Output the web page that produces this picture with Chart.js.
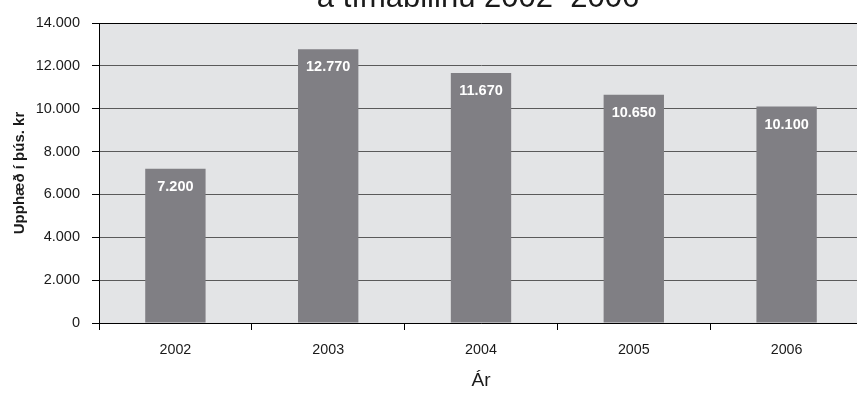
<!DOCTYPE html>
<html>
<head>
<meta charset="utf-8">
<script src="https://cdn.jsdelivr.net/npm/chart.js@4/dist/chart.umd.min.js"></script>
<style>
  html, body { margin: 0; padding: 0; background: #ffffff; overflow: hidden; }
  #wrap { position: relative; width: 863px; height: 394px; }
</style>
</head>
<body>
<div id="wrap"><canvas id="chart"></canvas></div>
<script>
// Yearly amounts (thousand kr)
const years = ['2002', '2003', '2004', '2005', '2006'];
const amounts = [7200, 12770, 11670, 10650, 10100];
const yTicks = [0, 2000, 4000, 6000, 8000, 10000, 12000, 14000];
const titleText = 'á tímabilinu 2002–2006';
const yTitle = 'Upphæð í þús. kr';
const xTitle = 'Ár';

const FONT = '"Liberation Sans", Arial, Helvetica, sans-serif';
const fmt = v => String(Math.round(v)).replace(/\B(?=(\d{3})+(?!\d))/g, '.');

// Light grey plot area behind the bars
const plotBackground = {
  id: 'plotBackground',
  beforeDraw(chart) {
    const { ctx, chartArea: a } = chart;
    ctx.save();
    ctx.fillStyle = '#e3e4e6';
    ctx.fillRect(a.left, a.top, a.right - a.left, a.bottom - a.top);
    ctx.restore();
  }
};

// White value labels just inside the top of each bar
const barValues = {
  id: 'barValues',
  afterDatasetsDraw(chart) {
    const { ctx } = chart;
    const meta = chart.getDatasetMeta(0);
    ctx.save();
    ctx.fillStyle = '#ffffff';
    ctx.font = 'bold 14.5px ' + FONT;
    ctx.textAlign = 'center';
    ctx.textBaseline = 'middle';
    meta.data.forEach((bar, i) => {
      ctx.fillText(fmt(amounts[i]), bar.x, bar.y + 18);
    });
    ctx.restore();
  }
};

// Heading line along the top edge
const heading = {
  id: 'heading',
  afterDraw(chart) {
    const { ctx } = chart;
    ctx.save();
    ctx.fillStyle = '#1a1a1a';
    ctx.font = '31px ' + FONT;
    ctx.textAlign = 'center';
    ctx.textBaseline = 'alphabetic';
    ctx.fillText(titleText, 478, 7);
    ctx.restore();
  }
};

new Chart(document.getElementById('chart'), {
  type: 'bar',
  data: {
    labels: years,
    datasets: [{
      data: amounts,
      backgroundColor: '#807f84',
      borderWidth: 0,
      categoryPercentage: 1,
      barPercentage: 0.395
    }]
  },
  options: {
    responsive: true,
    maintainAspectRatio: false,
    animation: false,
    layout: { padding: { top: 23, left: 0, right: 0, bottom: 0 } },
    plugins: {
      legend: { display: false },
      tooltip: { enabled: false },
      title: { display: false }
    },
    scales: {
      x: {
        grid: {
          offset: true,
          drawOnChartArea: false,
          drawTicks: true,
          tickLength: 7,
          tickColor: '#000000',
          tickWidth: 1
        },
        border: { display: true, color: '#000000', width: 1 },
        ticks: {
          color: '#1a1a1a',
          font: { family: FONT, size: 14.3 },
          padding: 11,
          maxRotation: 0
        },
        title: {
          display: true,
          text: xTitle,
          color: '#1a1a1a',
          font: { family: FONT, size: 19 },
          padding: { top: 0, bottom: 2 }
        },
        afterFit(scale) { scale.height = 71; }
      },
      y: {
        min: 0,
        max: 14000,
        afterBuildTicks(scale) { scale.ticks = yTicks.map(v => ({ value: v })); },
        grid: {
          color: ctx => (ctx.tick && ctx.tick.value === 14000) ? '#000000' : '#5a5a5a',
          lineWidth: 1,
          drawTicks: true,
          tickLength: 7,
          tickColor: '#000000'
        },
        border: { display: true, color: '#000000', width: 1 },
        ticks: {
          color: '#1a1a1a',
          font: { family: FONT, size: 14.5 },
          padding: 12,
          callback: v => fmt(v)
        },
        title: {
          display: true,
          text: yTitle,
          color: '#1a1a1a',
          font: { family: FONT, size: 15, weight: 'bold' },
          padding: { top: 11, bottom: 0 }
        },
        afterFit(scale) { scale.width = 99; }
      }
    }
  },
  plugins: [plotBackground, barValues, heading]
});
</script>
</body>
</html>
